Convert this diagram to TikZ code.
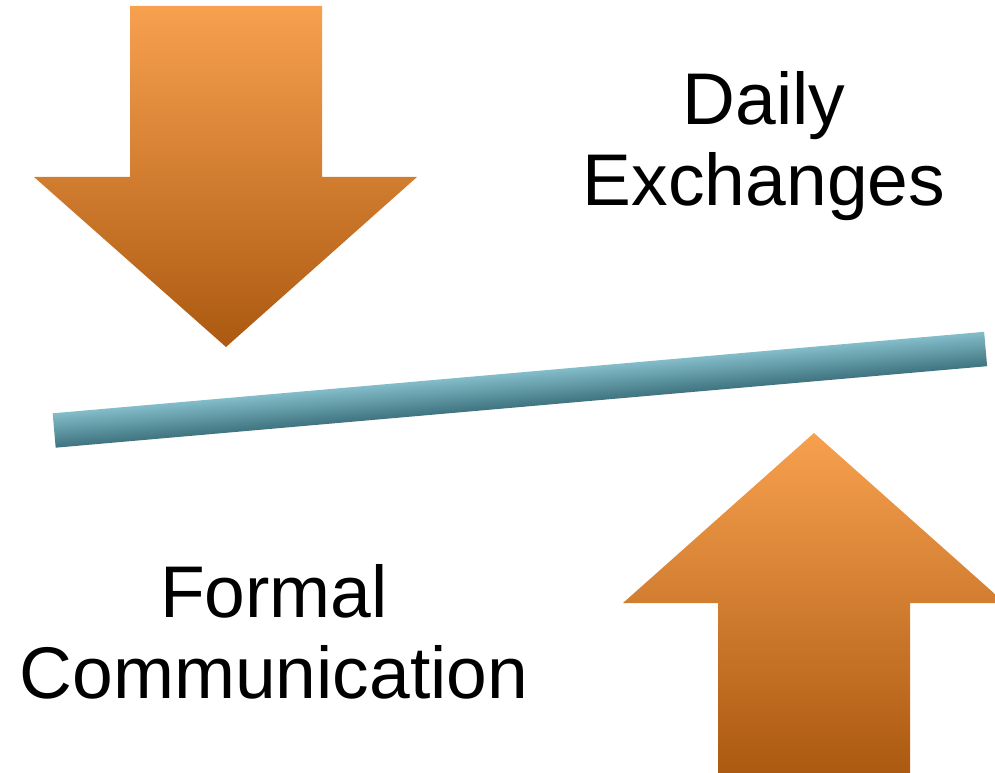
\documentclass[tikz,border=0pt]{standalone}
\usepackage{fontspec}
\setmainfont{Liberation Sans}
\definecolor{arrowtop}{RGB}{247,161,79}
\definecolor{arrowbottom}{RGB}{172,89,17}
\definecolor{beamtop}{RGB}{131,189,201}
\definecolor{beambottom}{RGB}{62,115,127}

\begin{document}
\begin{tikzpicture}[x=0.75pt,y=-0.75pt,
  arrowshade/.style={top color=arrowtop,bottom color=arrowbottom,draw=none},
  beamshade/.style={top color=beamtop,bottom color=beambottom,draw=none},
  bigtext/.style={font=\fontsize{54.9}{60.75}\selectfont,align=center,inner sep=0pt,anchor=north}]
\clip (0,0) rectangle (995,773);
\shade[arrowshade] (130,6) -- (322,6) -- (322,177) -- (417,177) -- (226,347) -- (34,177) -- (130,177) -- cycle;
\shade[arrowshade] (718,774) -- (910,774) -- (910,603) -- (1005,603) -- (814,433) -- (623,603) -- (718,603) -- cycle;
\begin{scope}[transform canvas={shift={(519.9,389.75)},rotate=5}]
\shade[beamshade] (-467.5,-17.25) rectangle (467.5,17.25);
\end{scope}
\node[bigtext] (daily) at (764,71) {Daily\\Exchanges};
\node[bigtext] (formal) at (274,564) {Formal\\Communication};
\end{tikzpicture}
\end{document}
